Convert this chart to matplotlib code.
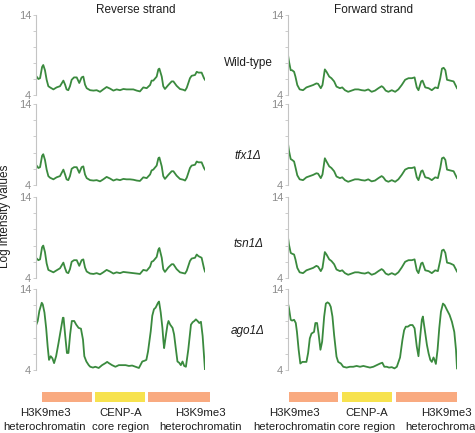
import numpy as np
import matplotlib.pyplot as plt

plt.rcParams['font.family'] = ['Liberation Sans', 'DejaVu Sans']

# positions along the centromere (arbitrary units, 0-100) and log intensities
rev_x = [0, 1.4, 2.4, 3.6, 4.3, 5.3, 6.3, 7.3, 8.3, 10.3, 12.2, 14.2, 16.2, 17.2, 18.1, 19.1, 20.1, 21.1, 22.5, 24.1,
         25.6, 27, 28, 29, 30, 32, 34, 35.9, 37.9, 39.8, 41.8, 43.8, 45.8, 47.7, 49.7, 51.7, 53.6, 55.6, 57.6, 59.6,
         61.5, 63.5, 65.5, 67.5, 68.4, 69.4, 71.4, 72.4, 73, 74.4, 75.3, 76.3, 78.3, 80.3, 81.3, 83.2, 85.2, 87.2, 88.2, 89.2,
         91.1, 92.1, 94.1, 95.1, 96.1, 98, 99.4, 100]
wt_rev = [6.4, 6.0, 6.1, 7.5, 7.75, 7.1, 5.9, 5.1, 4.95, 4.7, 4.95, 5.1, 5.8, 5.3, 4.7, 4.6, 5.1, 5.9, 6.2, 6.2,
          5.5, 6.2, 6.3, 5.3, 4.85, 4.6, 4.55, 4.6, 4.4, 4.7, 5.0, 4.8, 4.55, 4.7, 4.6, 4.75, 4.7, 4.7, 4.7, 4.55,
          4.45, 4.95, 4.85, 5.25, 5.8, 5.8, 6.3, 7.2, 7.3, 6.3, 5.1, 4.75, 5.25, 5.7, 5.7, 5.15, 4.75, 4.65, 4.55, 4.9,
          6.1, 6.4, 6.5, 6.9, 6.8, 6.8, 6.1, 5.9]
tfx1_rev = [6.5, 6.1, 6.2, 7.6, 7.8, 7.1, 5.9, 5.1, 4.9, 4.7, 4.95, 5.1, 5.9, 5.3, 4.7, 4.6, 5.1, 6.0, 6.2, 6.2,
            5.5, 6.2, 6.3, 5.3, 4.85, 4.6, 4.55, 4.6, 4.45, 4.7, 5.0, 4.8, 4.55, 4.7, 4.6, 4.75, 4.7, 4.7, 4.65, 4.55,
            4.5, 4.95, 4.85, 5.3, 5.8, 5.9, 6.4, 7.3, 7.4, 6.3, 5.1, 4.75, 5.25, 5.7, 5.7, 5.15, 4.75, 4.65, 4.55, 4.9,
            6.1, 6.4, 6.5, 6.9, 6.8, 6.8, 6.1, 5.9]
tsn1_rev = [6.5, 6.2, 6.3, 7.8, 8.0, 7.2, 5.8, 5.0, 4.9, 4.7, 4.95, 5.2, 5.9, 5.2, 4.7, 4.6, 5.1, 6.0, 6.2, 6.2,
            5.5, 6.2, 6.3, 5.3, 4.8, 4.55, 4.5, 4.6, 4.45, 4.7, 5.0, 4.8, 4.55, 4.7, 4.6, 4.75, 4.7, 4.65, 4.6, 4.55,
            4.5, 5.0, 4.9, 5.4, 6.0, 6.1, 6.6, 7.5, 7.7, 6.5, 5.1, 4.75, 5.3, 5.7, 5.7, 5.1, 4.7, 4.6, 4.55, 4.9,
            6.1, 6.4, 6.5, 6.9, 6.7, 6.5, 5.2, 4.8]

fwd_x = [0, 0.6, 1.6, 2.4, 3.6, 4.4, 5.5, 6.9, 8.9, 10.9, 12.9, 14.9, 16.8, 17.8, 19.4, 20.4, 21.8, 22.8, 24.4, 25.7,
         27.3, 28.7, 30.7, 32.1, 33.7, 35.6, 37.6, 39.6, 41.6, 43.6, 45.5, 47.5, 49.5, 51.5, 53.5, 55.4, 56.4, 57.8, 59.4, 61.4,
         63.4, 65.3, 67.3, 69.3, 71.3, 73.3, 74.9, 76.2, 77.2, 78.8, 79.6, 81.2, 83.2, 85.1, 87.1, 88.7, 90.1, 91.1, 92.1, 93.1,
         94.1, 96, 98, 100]
wt_fwd = [9.0, 8.17, 7.1, 7.1, 6.9, 6.3, 5.25, 4.7, 4.6, 4.95, 5.1, 5.25, 5.45, 5.4, 4.85, 5.25, 7.2, 6.9, 6.3, 6.1,
          5.7, 5.05, 4.85, 4.95, 4.6, 4.4, 4.55, 4.7, 4.7, 4.6, 4.55, 4.7, 4.4, 4.55, 4.85, 5.1, 4.95, 4.55, 4.4, 4.6,
          4.4, 4.7, 5.25, 5.9, 6.1, 6.1, 6.2, 4.95, 4.6, 5.7, 5.8, 4.95, 4.85, 4.6, 4.95, 4.85, 6.1, 7.3, 7.4, 7.1,
          5.9, 5.8, 5.7, 4.85]
tfx1_fwd = [9.1, 8.2, 7.2, 7.1, 6.9, 6.2, 5.2, 4.7, 4.6, 4.95, 5.1, 5.25, 5.45, 5.4, 4.85, 5.3, 7.3, 6.9, 6.3, 6.1,
            5.7, 5.05, 4.85, 4.95, 4.6, 4.4, 4.55, 4.7, 4.7, 4.6, 4.55, 4.7, 4.45, 4.55, 4.85, 5.1, 4.95, 4.55, 4.4, 4.6,
            4.4, 4.7, 5.25, 5.9, 6.1, 6.1, 6.2, 4.95, 4.6, 5.7, 5.8, 4.95, 4.85, 4.6, 4.95, 4.85, 6.1, 7.3, 7.4, 7.1,
            5.9, 5.8, 5.7, 4.85]
tsn1_fwd = [9.0, 8.1, 7.1, 7.0, 6.9, 6.3, 5.25, 4.7, 4.6, 4.95, 5.1, 5.25, 5.5, 5.4, 4.85, 5.25, 7.2, 6.9, 6.3, 6.1,
            5.7, 5.05, 4.85, 4.95, 4.6, 4.4, 4.55, 4.7, 4.7, 4.6, 4.55, 4.7, 4.4, 4.55, 4.85, 5.1, 4.95, 4.55, 4.4, 4.6,
            4.4, 4.7, 5.3, 6.0, 6.2, 6.2, 6.3, 4.95, 4.6, 5.8, 5.9, 4.95, 4.85, 4.6, 4.95, 4.85, 6.2, 7.4, 7.5, 7.1,
            5.9, 5.8, 5.6, 4.8]

ago1_rev_x = [0, 1, 2, 3.4, 4, 5, 6, 6.9, 7.7, 8.7, 9.7, 10.7, 11.9, 13.3, 14.7, 15.9, 16.3, 17.3, 18.3, 19.2,
              20.2, 21.2, 22.6, 23.8, 25.2, 26.6, 27.8, 28.6, 29.8, 31.2, 32.1, 33.7, 35.1, 37.1, 39.1, 41.1, 42.1, 43.1, 45, 47,
              49, 51, 53, 55, 56.9, 58.9, 60.9, 62.9, 64.3, 65.3, 66.3, 67.9, 68.8, 69.8, 70.8, 72.2, 72.8, 73.8, 74.8, 75.4,
              75.8, 76.8, 77.8, 78.4, 79.4, 80.8, 81.7, 82.7, 83.7, 84.7, 85.7, 86.7, 87.7, 88.7, 90.1, 91.7, 92.7, 93.7, 94.6, 95.6,
              96.6, 97.6, 98.6, 100]
ago1_rev = [9.5, 10.05, 11.3, 12.3, 12.1, 11.1, 9.2, 6.9, 5.25, 5.7, 5.45, 4.85, 5.7, 7.3, 9.0, 10.45, 10.45, 8.2, 6.1, 6.1,
            8.4, 10.05, 10.05, 9.6, 9.2, 9.1, 7.75, 5.7, 5.05, 4.6, 4.4, 4.3, 4.4, 4.25, 4.6, 4.85, 5.0, 4.85, 4.6, 4.4,
            4.6, 4.6, 4.6, 4.5, 4.55, 4.4, 4.25, 5.05, 5.15, 5.25, 6.3, 8.8, 10.7, 11.5, 11.7, 12.3, 12.45, 11.1, 9.2, 7.55,
            6.7, 8.2, 9.6, 10.05, 9.6, 9.2, 8.4, 6.7, 5.05, 4.9, 4.6, 5.05, 4.5, 4.4, 6.5, 9.6, 9.9, 10.05, 10.25, 10.05,
            9.8, 9.95, 8.2, 4.0]

ago1_fwd_x = [0, 0.6, 1.6, 2.4, 3.6, 4.6, 5.3, 6.3, 7.3, 8.5, 9.9, 10.9, 11.9, 12.9, 13.9, 15.4, 16.2, 17.2, 18.2, 19.2,
              20.2, 21.4, 22.4, 23.4, 24.4, 25.3, 26.3, 27.3, 28.7, 29.7, 31.3, 32.7, 34.7, 36.6, 38.6, 40.6, 42.6, 44.6, 46.5, 48.5,
              50.5, 52.5, 54.5, 55.8, 57, 58.4, 59.8, 61.4, 63, 64.4, 66.3, 67.7, 68.7, 69.7, 70.9, 72.3, 73.7, 74.9, 76.2, 77.2,
              78.2, 79.2, 79.8, 80.8, 82.2, 83.2, 84.2, 85.1, 86.1, 86.7, 87.5, 88.5, 89.5, 90.5, 91.7, 92.7, 94.1, 95.6, 97, 98.4,
              99.4, 100]
ago1_fwd = [12.2, 11.6, 10.2, 10.1, 10.2, 9.8, 8.7, 6.5, 4.8, 5.0, 5.0, 5.0, 6.1, 7.9, 8.5, 8.7, 9.8, 9.8, 8.3, 6.5,
            7.5, 10.6, 12.2, 12.35, 12.2, 11.8, 10.6, 8.3, 5.65, 5.0, 4.8, 4.4, 4.3, 4.4, 4.4, 4.5, 4.4, 4.5, 4.4, 4.3,
            4.4, 4.6, 4.8, 4.9, 4.4, 4.4, 4.3, 4.35, 4.2, 4.4, 5.55, 7.7, 8.9, 9.35, 9.35, 9.55, 9.55, 9.15, 6.9, 5.7,
            8.1, 10.2, 10.6, 9.15, 7.1, 6.05, 5.25, 5.0, 5.55, 5.25, 4.75, 6.5, 9.15, 11.2, 12.2, 12.0, 11.4, 10.8, 9.95, 8.7,
            6.5, 4.2]

strain_names = ['Wild-type', 'tfx1Δ', 'tsn1Δ', 'ago1Δ']
strain_styles = ['normal', 'italic', 'italic', 'italic']
rev_series = [(rev_x, wt_rev), (rev_x, tfx1_rev), (rev_x, tsn1_rev), (ago1_rev_x, ago1_rev)]
fwd_series = [(fwd_x, wt_fwd), (fwd_x, tfx1_fwd), (fwd_x, tsn1_fwd), (ago1_fwd_x, ago1_fwd)]

# annotation regions (start, width) along the same 0-100 axis
rev_regions = [(3.5, 29.5), (35, 29.5), (66, 37)]
fwd_regions = [(0.6, 29), (32, 29.5), (64, 36)]
region_colors = ['#f9aa80', '#f7e24e', '#f9aa80']

W, H = 475, 433
fig = plt.figure(figsize=(W / 100, H / 100), dpi=100)

line_color = '#3a8a3e'
grey = '#8c8c8c'
text_color = '#1e1e1e'

# panel top/bottom in pixels
rows = [(15, 95), (104, 185), (197, 278), (289, 370)]


def make_panel(left_px, top, bottom, xs, ys):
    ax = fig.add_axes([left_px / W, 1 - bottom / H, 169 / W, (bottom - top) / H])
    ax.plot(xs, ys, color=line_color, lw=1.3)
    ax.set_xlim(0, 100)
    ax.set_ylim(4, 14)
    for s in ['top', 'right', 'bottom']:
        ax.spines[s].set_visible(False)
    ax.spines['left'].set_color('#c4c4c4')
    ax.spines['left'].set_linewidth(0.8)
    ax.set_xticks([])
    ax.set_yticks([4, 14])
    ax.set_yticks([6, 8, 10, 12], minor=True)
    ax.tick_params(axis='y', which='both', length=2.5, width=0.6, color='#c4c4c4',
                   labelsize=8, labelcolor=grey, pad=1)
    ax.patch.set_alpha(0)
    return ax


for i, (top, bottom) in enumerate(rows):
    make_panel(36, top, bottom, *rev_series[i])
    make_panel(288, top, bottom, *fwd_series[i])

label_y = [63, 156, 244, 331]
for name, style, y in zip(strain_names, strain_styles, label_y):
    fig.text(248 / W, 1 - y / H, name, ha='center', va='center', fontsize=8.5,
             style=style, color=text_color)

fig.text(136 / W, 1 - 10 / H, 'Reverse strand', ha='center', va='center', fontsize=8.5, color=text_color)
fig.text(373 / W, 1 - 10 / H, 'Forward strand', ha='center', va='center', fontsize=8.5, color=text_color)
fig.text(5 / W, 1 - 216 / H, 'Log intensity values', ha='center', va='center', rotation=90,
         fontsize=8.5, color=text_color)

# region bars
for left_px, regions in [(36, rev_regions), (288, fwd_regions)]:
    bx = fig.add_axes([left_px / W, 1 - 402 / H, 169 / W, 10 / H])
    bx.set_xlim(0, 100)
    bx.set_ylim(0, 1)
    bx.axis('off')
    for (start, width), c in zip(regions, region_colors):
        bx.barh(0.5, width, left=start, height=1, color=c, clip_on=False)

region_label_x = [45, 121, 200, 294, 367, 446]
region_labels = [('H3K9me3', 'heterochromatin'), ('CENP-A', 'core region'), ('H3K9me3', 'heterochromatin')] * 2
for x, (l1, l2) in zip(region_label_x, region_labels):
    fig.text(x / W, 1 - 413 / H, l1, ha='center', va='center', fontsize=8.2, color=text_color)
    fig.text(x / W, 1 - 427 / H, l2, ha='center', va='center', fontsize=8.2, color=text_color)

fig.savefig('out.png', dpi=100)
